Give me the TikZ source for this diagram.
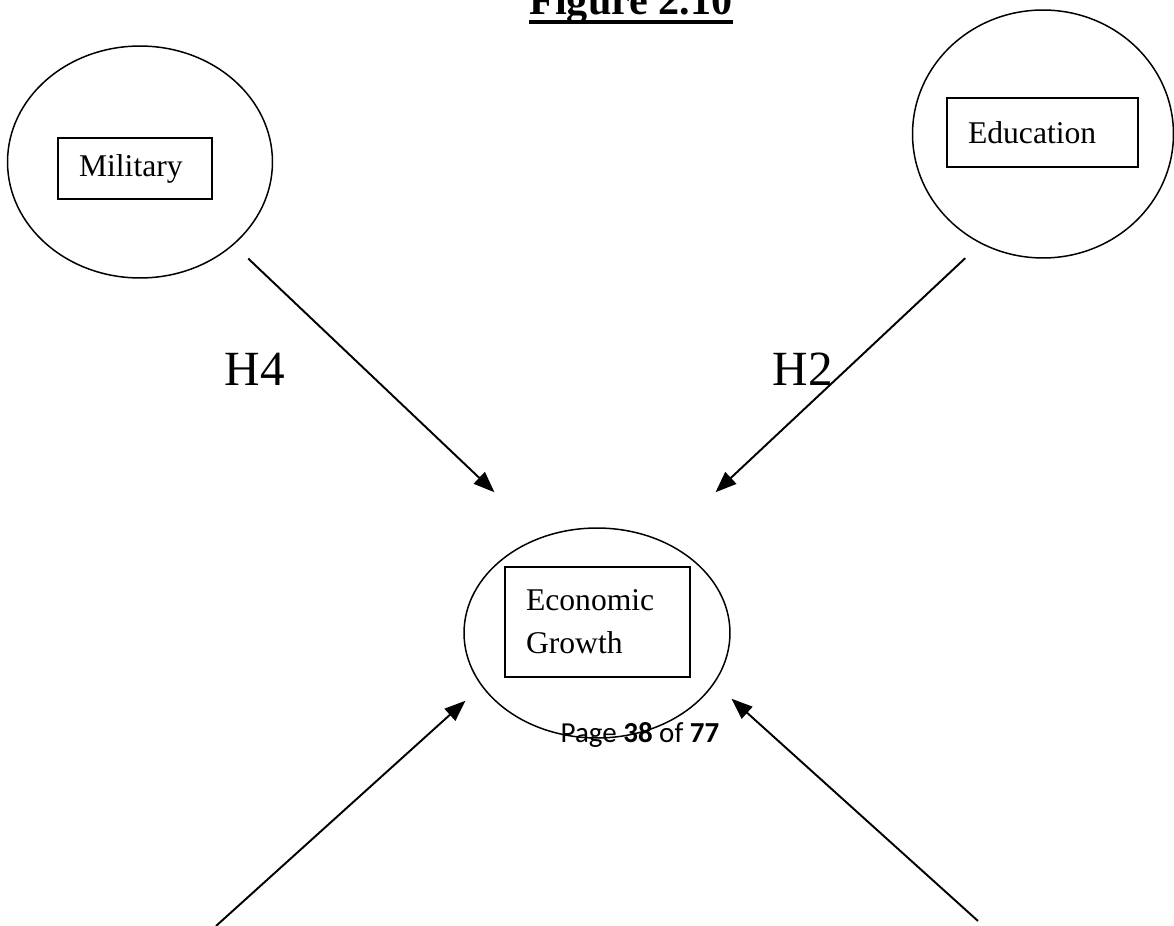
\documentclass[tikz,border=0pt]{standalone}
\usepackage{fontspec}
\setmainfont{Liberation Serif}
\newfontfamily\footerfont{Carlito}
\usetikzlibrary{calc,shapes.geometric,arrows.meta}

\begin{document}
\begin{tikzpicture}[x=0.02cm, y=-0.02cm, font=\fontsize{18}{24.4}\selectfont]
\tikzset{
  oval/.style={draw, ellipse, line width=0.85pt, inner sep=0pt},
  tbox/.style={draw, line width=0.85pt, align=left, inner xsep=0.42cm, inner ysep=0pt},
  arr/.style={-{Triangle[length=0.42cm, width=0.32cm]}, line width=1.1pt},
  hyp/.style={font=\fontsize{28}{32}\selectfont, inner sep=0pt, anchor=base},
}
\useasboundingbox (0,0) rectangle (1174,926);
% title
\node[font=\fontsize{24}{28}\selectfont\bfseries, anchor=base, inner sep=0pt] (title) at (631,15) {Figure 2.10};
\draw[line width=2.3pt] ($(title.base west)+(0,7)$) -- ($(title.base east)+(0,7)$);
% constructs
\node[oval, minimum width=5.3cm, minimum height=4.64cm] (mil) at (140,162) {};
\node[oval, minimum width=5.22cm, minimum height=4.96cm] (edu) at (1043,134) {};
\node[oval, minimum width=5.32cm, minimum height=4.2cm] (eg) at (597,633) {};
\node[tbox, text width=2.24cm, minimum height=1.22cm] (milbox) at (135,168.5) {Military};
\node[tbox, text width=2.98cm, minimum height=1.38cm] (edubox) at (1042.5,132.5) {Education};
\node[tbox, text width=2.86cm, minimum height=2.2cm] (egbox) at (597.5,622) {Economic\\Growth};
% hypotheses
\draw[arr] ($(mil.south east)+(14,14)$) -- ($(eg.north west)+(-8,-66)$);
\draw[arr] ($(edu.south west)+(15,36)$) -- ($(eg.north east)+(24,-66)$);
\node[hyp] (h4) at (255,385) {H4};
\node[hyp] (h2) at (803,385) {H2};
% lower inputs
\coordinate (inl) at (216,926);
\coordinate (inr) at (978,921);
\draw[arr] (inl) -- ($(eg.south west)+(-37,-7)$);
\draw[arr] (inr) -- ($(eg.south east)+(40,-9)$);
% page footer
\node[font=\footerfont\fontsize{16.5}{20}\selectfont, anchor=base, inner sep=0pt] (pg) at (640,742) {Page \textbf{38} of \textbf{77}};
\end{tikzpicture}
\end{document}
